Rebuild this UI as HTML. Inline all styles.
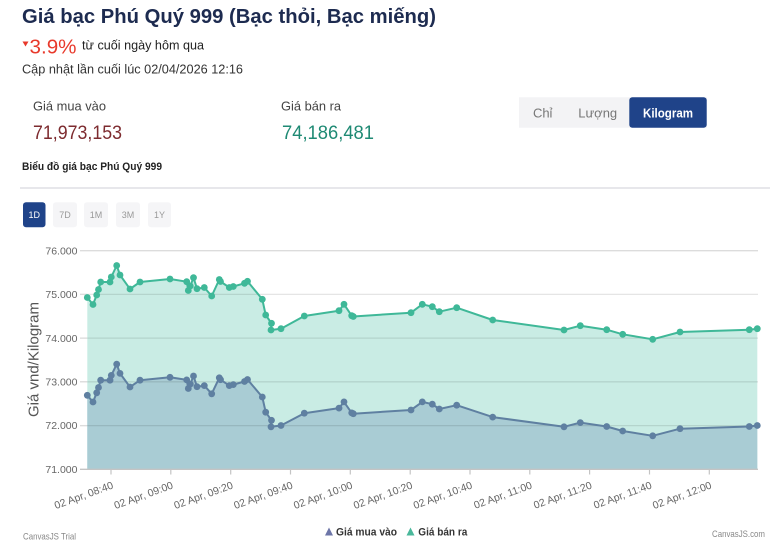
<!DOCTYPE html>
<html>
<head>
<meta charset="utf-8">
<style>
  html,body{margin:0;padding:0;background:#fff;}
  body{width:770px;height:542px;overflow:hidden;}
  svg{display:block;font-family:"Liberation Sans","DejaVu Sans",sans-serif;}
</style>
</head>
<body>
<svg width="770" height="542" viewBox="0 0 770 542" xmlns="http://www.w3.org/2000/svg">
  <defs>
    <marker id="mS" markerUnits="userSpaceOnUse" markerWidth="8" markerHeight="8" refX="4" refY="4">
      <circle cx="4" cy="4" r="3.4" fill="#3fb898"/>
    </marker>
    <marker id="mB" markerUnits="userSpaceOnUse" markerWidth="8" markerHeight="8" refX="4" refY="4">
      <circle cx="4" cy="4" r="3.4" fill="#5f80a1"/>
    </marker>
  </defs>
  <rect width="770" height="542" fill="#fff"/>

  <!-- Header -->
  <text x="22" y="23" font-size="20.3" font-weight="bold" fill="#1d2b50" textLength="414" lengthAdjust="spacingAndGlyphs">Giá bạc Phú Quý 999 (Bạc thỏi, Bạc miếng)</text>
  <polygon points="22.5,41.5 28.5,41.5 25.5,46.5" fill="#e8392b"/>
  <text x="29.5" y="53.3" font-size="20.5" fill="#e8392b" textLength="47" lengthAdjust="spacingAndGlyphs">3.9%</text>
  <text x="82" y="49.5" font-size="13" fill="#222" textLength="122" lengthAdjust="spacingAndGlyphs">từ cuối ngày hôm qua</text>
  <text x="22" y="73.3" font-size="12.7" fill="#333" textLength="221" lengthAdjust="spacingAndGlyphs">Cập nhật lần cuối lúc 02/04/2026 12:16</text>

  <text x="33" y="110.7" font-size="13" fill="#444" textLength="73" lengthAdjust="spacingAndGlyphs">Giá mua vào</text>
  <text x="33" y="139" font-size="19.5" fill="#7d2b2f" textLength="89" lengthAdjust="spacingAndGlyphs">71,973,153</text>
  <text x="281" y="110.7" font-size="13" fill="#444" textLength="60" lengthAdjust="spacingAndGlyphs">Giá bán ra</text>
  <text x="282" y="139" font-size="19.5" fill="#1f8a74" textLength="92" lengthAdjust="spacingAndGlyphs">74,186,481</text>

  <!-- Unit switch -->
  <rect x="519" y="97.3" width="188" height="30.4" fill="#f3f3f5"/>
  <rect x="629.3" y="97.3" width="77.4" height="30.4" rx="3" fill="#1f4389"/>
  <text x="542.7" y="117.5" font-size="13" fill="#777" text-anchor="middle">Chỉ</text>
  <text x="597.7" y="117.5" font-size="13" fill="#777" text-anchor="middle">Lượng</text>
  <text x="668" y="117.5" font-size="13" font-weight="bold" fill="#fff" text-anchor="middle" textLength="50" lengthAdjust="spacingAndGlyphs">Kilogram</text>

  <!-- Chart subtitle -->
  <text x="22" y="170" font-size="11.3" font-weight="bold" fill="#222" textLength="140" lengthAdjust="spacingAndGlyphs">Biểu đồ giá bạc Phú Quý 999</text>
  <rect x="20" y="187" width="750" height="2" fill="#e7e7eb"/>

  <!-- Range buttons -->
  <rect x="23" y="202.3" width="22.5" height="25" rx="3" fill="#1f4389"/>
  <text x="34.3" y="218" font-size="9" fill="#fff" text-anchor="middle">1D</text>
  <rect x="53" y="202.3" width="24" height="25" rx="3" fill="#f5f5f7"/>
  <text x="65" y="218" font-size="9" fill="#999" text-anchor="middle">7D</text>
  <rect x="84" y="202.3" width="24" height="25" rx="3" fill="#f5f5f7"/>
  <text x="96" y="218" font-size="9" fill="#999" text-anchor="middle">1M</text>
  <rect x="116" y="202.3" width="24" height="25" rx="3" fill="#f5f5f7"/>
  <text x="128" y="218" font-size="9" fill="#999" text-anchor="middle">3M</text>
  <rect x="148" y="202.3" width="23" height="25" rx="3" fill="#f5f5f7"/>
  <text x="159.5" y="218" font-size="9" fill="#999" text-anchor="middle">1Y</text>

  <!-- Y axis labels -->
  <g font-size="10.5" fill="#666" text-anchor="end">
    <text x="77.5" y="254.3">76.000</text>
    <text x="77.5" y="298">75.000</text>
    <text x="77.5" y="341.8">74.000</text>
    <text x="77.5" y="385.5">73.000</text>
    <text x="77.5" y="429.2">72.000</text>
    <text x="77.5" y="473">71.000</text>
  </g>
  <text transform="translate(38.5,359.5) rotate(-90)" font-size="15" fill="#555" text-anchor="middle" textLength="115" lengthAdjust="spacingAndGlyphs">Giá vnd/Kilogram</text>

  <!-- Grid (top line on white) -->
  <g stroke="#dcdcdc" stroke-width="1.3">
    <line x1="80" y1="250.7" x2="758" y2="250.7"/>
  </g>

  <!-- Sell area -->
  <path fill="#c9ece4" d="M87.3,469.3 L87.3,297.5 93,304.5 96.7,295 98.5,289.5 100.7,282 110,282 111.3,277 116.7,265.5 120,275 130,289 140,282 170,279 186.7,281.7 188.3,290.5 190.3,286 193.5,277.7 197,288.7 204.3,287.5 211.7,296 219.3,279.5 220.5,281.5 229.3,287.5 233.3,286.5 244.5,283.3 247.5,281.3 262.3,299.3 265.7,315 271.5,323.3 271,330 281,328.7 304.3,316 339,310.7 344,304.3 351.7,315.7 353.3,316.5 411,312.7 422.3,304.3 432.3,306.7 439.3,311.7 456.7,307.7 492.7,320 564,330 580.3,325.7 606.7,329.7 622.7,334.3 652.7,339.3 680,332 749.3,329.7 757.3,328.7 L757.3,469.3 Z"/>
  <!-- Buy area -->
  <path fill="#a9ccd4" d="M87.3,469.3 L87.3,395.3 93,402 96.7,392.8 98.5,387.5 100.7,380.2 110,380.2 111.3,375.4 116.7,364.2 120,373.4 130,387 140,380.2 170,377.3 186.7,379.9 188.3,388.5 190.3,384.1 193.5,376 197,386.7 204.3,385.6 211.7,393.8 219.3,377.8 220.5,379.7 229.3,385.6 233.3,384.6 244.5,381.5 247.5,379.5 262.3,397 265.7,412.2 271.5,420.3 271,426.8 281,425.5 304.3,413.2 339,408.1 344,401.9 351.7,412.9 353.3,413.7 411,410 422.3,401.9 432.3,404.2 439.3,409 456.7,405.2 492.7,417.1 564,426.8 580.3,422.6 606.7,426.5 622.7,431 652.7,435.8 680,428.7 749.3,426.5 757.3,425.5 L757.3,469.3 Z"/>

  <!-- Grid lines over fills -->
  <g stroke="rgba(0,0,0,0.1)" stroke-width="1.3">
    <line x1="80" y1="294.4" x2="758" y2="294.4"/>
    <line x1="80" y1="338.1" x2="758" y2="338.1"/>
    <line x1="80" y1="381.8" x2="758" y2="381.8"/>
    <line x1="80" y1="425.6" x2="758" y2="425.6"/>
  </g>
  <g stroke="#dcdcdc" stroke-width="1.3">
    <line x1="80" y1="294.4" x2="87" y2="294.4"/>
    <line x1="80" y1="338.1" x2="87" y2="338.1"/>
    <line x1="80" y1="381.8" x2="87" y2="381.8"/>
    <line x1="80" y1="425.6" x2="87" y2="425.6"/>
  </g>

  <!-- Sell line -->
  <polyline fill="none" stroke="#3fb898" stroke-width="2" stroke-linejoin="round" marker-start="url(#mS)" marker-mid="url(#mS)" marker-end="url(#mS)" points="87.3,297.5 93,304.5 96.7,295 98.5,289.5 100.7,282 110,282 111.3,277 116.7,265.5 120,275 130,289 140,282 170,279 186.7,281.7 188.3,290.5 190.3,286 193.5,277.7 197,288.7 204.3,287.5 211.7,296 219.3,279.5 220.5,281.5 229.3,287.5 233.3,286.5 244.5,283.3 247.5,281.3 262.3,299.3 265.7,315 271.5,323.3 271,330 281,328.7 304.3,316 339,310.7 344,304.3 351.7,315.7 353.3,316.5 411,312.7 422.3,304.3 432.3,306.7 439.3,311.7 456.7,307.7 492.7,320 564,330 580.3,325.7 606.7,329.7 622.7,334.3 652.7,339.3 680,332 749.3,329.7 757.3,328.7"/>
  <!-- Buy line -->
  <polyline fill="none" stroke="#5f80a1" stroke-width="2" stroke-linejoin="round" marker-start="url(#mB)" marker-mid="url(#mB)" marker-end="url(#mB)" points="87.3,395.3 93,402 96.7,392.8 98.5,387.5 100.7,380.2 110,380.2 111.3,375.4 116.7,364.2 120,373.4 130,387 140,380.2 170,377.3 186.7,379.9 188.3,388.5 190.3,384.1 193.5,376 197,386.7 204.3,385.6 211.7,393.8 219.3,377.8 220.5,379.7 229.3,385.6 233.3,384.6 244.5,381.5 247.5,379.5 262.3,397 265.7,412.2 271.5,420.3 271,426.8 281,425.5 304.3,413.2 339,408.1 344,401.9 351.7,412.9 353.3,413.7 411,410 422.3,401.9 432.3,404.2 439.3,409 456.7,405.2 492.7,417.1 564,426.8 580.3,422.6 606.7,426.5 622.7,431 652.7,435.8 680,428.7 749.3,426.5 757.3,425.5"/>

  <!-- X axis -->
  <line x1="80" y1="469.3" x2="758" y2="469.3" stroke="#c4c4c4" stroke-width="1.3"/>
  <g stroke="#c4c4c4" stroke-width="1.2">
    <line x1="111" y1="469.3" x2="111" y2="474.5"/>
    <line x1="170.8" y1="469.3" x2="170.8" y2="474.5"/>
    <line x1="230.7" y1="469.3" x2="230.7" y2="474.5"/>
    <line x1="290.5" y1="469.3" x2="290.5" y2="474.5"/>
    <line x1="350.3" y1="469.3" x2="350.3" y2="474.5"/>
    <line x1="410.2" y1="469.3" x2="410.2" y2="474.5"/>
    <line x1="470" y1="469.3" x2="470" y2="474.5"/>
    <line x1="529.8" y1="469.3" x2="529.8" y2="474.5"/>
    <line x1="589.6" y1="469.3" x2="589.6" y2="474.5"/>
    <line x1="649.5" y1="469.3" x2="649.5" y2="474.5"/>
    <line x1="709.3" y1="469.3" x2="709.3" y2="474.5"/>
  </g>
  <g font-size="10.5" fill="#666" text-anchor="end">
    <text transform="translate(114,488) rotate(-20)">02 Apr, 08:40</text>
    <text transform="translate(173.8,488) rotate(-20)">02 Apr, 09:00</text>
    <text transform="translate(233.7,488) rotate(-20)">02 Apr, 09:20</text>
    <text transform="translate(293.5,488) rotate(-20)">02 Apr, 09:40</text>
    <text transform="translate(353.3,488) rotate(-20)">02 Apr, 10:00</text>
    <text transform="translate(413.2,488) rotate(-20)">02 Apr, 10:20</text>
    <text transform="translate(473,488) rotate(-20)">02 Apr, 10:40</text>
    <text transform="translate(532.8,488) rotate(-20)">02 Apr, 11:00</text>
    <text transform="translate(592.6,488) rotate(-20)">02 Apr, 11:20</text>
    <text transform="translate(652.5,488) rotate(-20)">02 Apr, 11:40</text>
    <text transform="translate(712.3,488) rotate(-20)">02 Apr, 12:00</text>
  </g>

  <!-- Legend -->
  <polygon points="325,535.5 333,535.5 329,527.5" fill="#6d76a8"/>
  <text x="336" y="535.5" font-size="11" font-weight="bold" fill="#333" textLength="61" lengthAdjust="spacingAndGlyphs">Giá mua vào</text>
  <polygon points="406.5,535.5 414.5,535.5 410.5,527.5" fill="#4ab89b"/>
  <text x="418.3" y="535.5" font-size="11" font-weight="bold" fill="#333" textLength="49" lengthAdjust="spacingAndGlyphs">Giá bán ra</text>

  <!-- Footer -->
  <text x="23" y="539.5" font-size="9.5" fill="#888" textLength="53" lengthAdjust="spacingAndGlyphs">CanvasJS Trial</text>
  <text x="712" y="537" font-size="9.5" fill="#888" textLength="53" lengthAdjust="spacingAndGlyphs">CanvasJS.com</text>
</svg>
</body>
</html>
